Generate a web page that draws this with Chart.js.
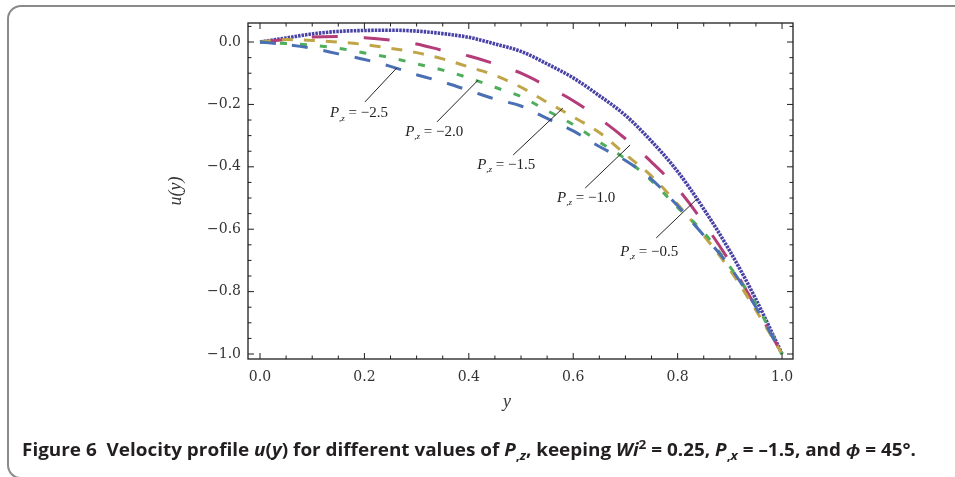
<!DOCTYPE html>
<html>
<head>
<meta charset="utf-8">
<title>Velocity profile u(y)</title>
<script src="https://cdn.jsdelivr.net/npm/chart.js@4.4.1/dist/chart.umd.min.js"></script>
<style>
  html, body { margin: 0; padding: 0; background: #fff; }
  #wrap { position: relative; width: 955px; height: 477px; overflow: hidden; }
  #box {
    position: absolute; left: 7px; top: 5px; width: 1000px; height: 470px;
    border: 2px solid #8a8a8a; border-radius: 14px;
  }
  #cadre { position: absolute; left: 0; top: 0; }
  #caption {
    position: absolute; left: 22px; top: 440px; white-space: nowrap;
    font: 700 17px "Open Sans", sans-serif; line-height: 20px; color: #231f20;
    transform-origin: 0 0;
  }
  #caption sub, #caption sup { font-size: 0.72em; line-height: 0; }
  #caption sub { vertical-align: -0.3em; }
  #caption sup { vertical-align: 0.55em; }
</style>
</head>
<body>
<div id="wrap">
  <div id="box"></div>
  <canvas id="cadre" width="955" height="477"></canvas>
  <div id="caption">Figure 6&nbsp; Velocity profile <i>u</i>(<i>y</i>) for different values of <i>P</i><sub>,<i>z</i></sub>, keeping <i>Wi</i><sup>2</sup> = 0.25, <i>P</i><sub>,<i>x</i></sub> = –1.5, and <i>ϕ</i> = 45°.</div>
</div>
<script>
// y positions across the channel
const yPos = [0, 0.05, 0.1, 0.15, 0.2, 0.25, 0.3, 0.35, 0.4, 0.45, 0.5,
              0.55, 0.6, 0.65, 0.7, 0.75, 0.8, 0.85, 0.9, 0.95, 1];

// u(y) for each P,z
const uPz05 = [0, 0.013, 0.026, 0.034, 0.037, 0.038, 0.035, 0.027, 0.015, -0.006, -0.03,
               -0.07, -0.115, -0.172, -0.235, -0.318, -0.415, -0.535, -0.67, -0.825, -1];
const uPz10 = [0, 0.008, 0.016, 0.018, 0.014, 0.006, -0.006, -0.027, -0.045, -0.07, -0.1,
               -0.142, -0.188, -0.245, -0.31, -0.385, -0.47, -0.58, -0.705, -0.85, -1];
const uPz15 = [0, 0.008, 0.005, 0, -0.008, -0.02, -0.034, -0.054, -0.08, -0.107, -0.145,
               -0.193, -0.24, -0.29, -0.36, -0.43, -0.52, -0.62, -0.73, -0.86, -1];
const uPz20 = [0, -0.005, -0.01, -0.02, -0.035, -0.05, -0.07, -0.09, -0.115, -0.145, -0.175,
               -0.22, -0.265, -0.32, -0.375, -0.445, -0.53, -0.61, -0.72, -0.84, -1];
const uPz25 = [0, -0.008, -0.02, -0.038, -0.056, -0.078, -0.105, -0.128, -0.155, -0.183, -0.205,
               -0.245, -0.285, -0.335, -0.38, -0.44, -0.525, -0.62, -0.72, -0.85, -1];

const pzValues = ['−2.5', '−2.0', '−1.5', '−1.0', '−0.5'];
const xTickValues = [0, 0.2, 0.4, 0.6, 0.8, 1];
const yTickValues = [0, -0.2, -0.4, -0.6, -0.8, -1];

// where each P,z label sits and where its pointer goes (data units)
const notes = [
  { at: [0.134, -0.228], from: [0.201, -0.192], to: [0.262, -0.083] },
  { at: [0.278, -0.288], from: [0.339, -0.256], to: [0.418, -0.122] },
  { at: [0.416, -0.394], from: [0.485, -0.362], to: [0.580, -0.212] },
  { at: [0.569, -0.500], from: [0.623, -0.468], to: [0.709, -0.330] },
  { at: [0.690, -0.673], from: [0.759, -0.628], to: [0.837, -0.503] }
];

const series = [uPz25, uPz20, uPz15, uPz10, uPz05];
const colors = ['#4b6fb3', '#4fae5c', '#c0a548', '#b43c79', '#4842a6'];
const dashes = [[16, 16], [7, 13], [11, 11], [26, 26], [2.5, 1]];
const widths = [3, 3, 3, 3, 3.6];

const datasets = series.map((vals, i) => ({
  label: 'P,z = ' + pzValues[i],
  data: vals.map((u, k) => ({ x: yPos[k], y: u })),
  borderColor: colors[i],
  borderWidth: widths[i],
  borderDash: dashes[i],
  borderCapStyle: 'butt',
  pointRadius: 0,
  fill: false,
  cubicInterpolationMode: 'monotone'
}));

const fmt = v => (v < -1e-9 ? '−' : '') + Math.abs(v).toFixed(1);

function drawPzLabel(ctx, x, y, value) {
  ctx.textBaseline = 'middle';
  ctx.textAlign = 'left';
  ctx.font = 'italic 15px "Liberation Serif"';
  ctx.fillText('P', x, y);
  let cx = x + ctx.measureText('P').width;
  ctx.font = 'italic 9px "Liberation Serif"';
  ctx.fillText(',z', cx, y + 5);
  cx += ctx.measureText(',z').width;
  ctx.font = '15px "Liberation Serif"';
  ctx.fillText(' = ' + value, cx, y);
}

const frameTicks = {
  id: 'frameTicks',
  afterDatasetsDraw(chart) {
    const { ctx, chartArea: a, scales: { x, y } } = chart;
    ctx.save();
    ctx.strokeStyle = '#1e1e1e';
    ctx.lineWidth = 1.3;
    ctx.strokeRect(a.left, a.top, a.right - a.left, a.bottom - a.top);

    ctx.lineWidth = 1;
    ctx.beginPath();
    const isMajor = v => Math.abs(v / 0.2 - Math.round(v / 0.2)) < 1e-6;
    for (let k = 0; k <= 20; k++) {
      const v = k * 0.05;
      const px = x.getPixelForValue(v);
      const len = isMajor(v) ? 6 : 3.5;
      ctx.moveTo(px, a.bottom); ctx.lineTo(px, a.bottom - len);
      ctx.moveTo(px, a.top); ctx.lineTo(px, a.top + len);
    }
    for (let k = -20; k <= 1; k++) {
      const v = k * 0.05;
      const py = y.getPixelForValue(v);
      const len = isMajor(v) ? 6 : 3.5;
      ctx.moveTo(a.left, py); ctx.lineTo(a.left + len, py);
      ctx.moveTo(a.right, py); ctx.lineTo(a.right - len, py);
    }
    ctx.stroke();

    // pointers and P,z labels
    ctx.strokeStyle = '#222';
    ctx.fillStyle = '#222';
    ctx.lineWidth = 1;
    notes.forEach((n, i) => {
      ctx.beginPath();
      ctx.moveTo(x.getPixelForValue(n.from[0]), y.getPixelForValue(n.from[1]));
      ctx.lineTo(x.getPixelForValue(n.to[0]), y.getPixelForValue(n.to[1]));
      ctx.stroke();
      drawPzLabel(ctx, x.getPixelForValue(n.at[0]), y.getPixelForValue(n.at[1]), pzValues[i]);
    });

    // axis titles
    ctx.fillStyle = '#333';
    ctx.font = 'italic 18px "Liberation Serif"';
    ctx.textAlign = 'center';
    ctx.textBaseline = 'middle';
    ctx.fillText('y', x.getPixelForValue(0.473), a.bottom + 43);
    ctx.translate(176, (a.top + a.bottom) / 2);
    ctx.rotate(-Math.PI / 2);
    ctx.fillText('u(y)', 0, 0);
    ctx.restore();
  }
};

const tickFont = { family: '"DejaVu Serif"', size: 14 };

new Chart(document.getElementById('cadre'), {
  type: 'line',
  data: { datasets },
  options: {
    responsive: false,
    animation: false,
    events: [],
    layout: { padding: { left: 150, right: 162, top: 23, bottom: 58 } },
    plugins: { legend: { display: false }, tooltip: { enabled: false } },
    scales: {
      x: {
        type: 'linear',
        min: -0.023,
        max: 1.021,
        afterBuildTicks: s => { s.ticks = xTickValues.map(v => ({ value: v })); },
        afterFit: s => { s.height = 60; },
        ticks: { font: tickFont, color: '#333', padding: 10, maxRotation: 0, callback: fmt },
        grid: { display: false, drawTicks: false },
        border: { display: false }
      },
      y: {
        type: 'linear',
        min: -1.016,
        max: 0.061,
        afterBuildTicks: s => { s.ticks = yTickValues.map(v => ({ value: v })); },
        afterFit: s => { s.width = 98; },
        ticks: { font: tickFont, color: '#333', padding: 7, callback: fmt },
        grid: { display: false, drawTicks: false },
        border: { display: false }
      }
    }
  },
  plugins: [frameTicks]
});

// fit the caption to its line width
const cap = document.getElementById('caption');
const w = cap.getBoundingClientRect().width;
cap.style.transform = 'scaleX(' + (894 / w).toFixed(4) + ')';
</script>
</body>
</html>
